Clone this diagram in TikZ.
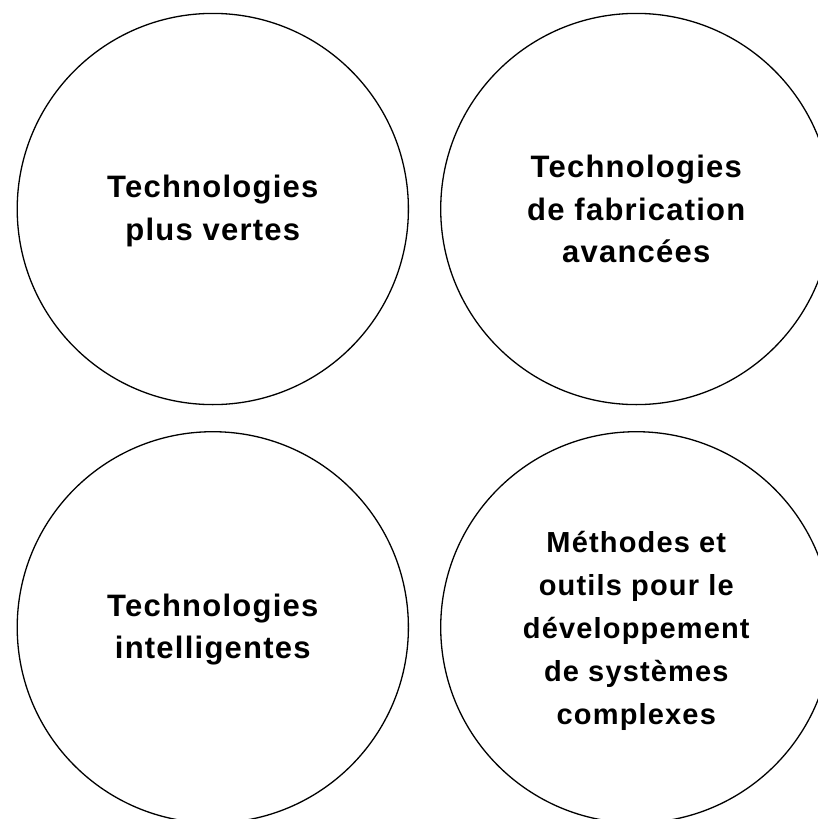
\documentclass[tikz,border=0pt]{standalone}
\usepackage{fontspec}
\setmainfont{Liberation Sans}[LetterSpace=4]
\begin{document}
\begin{tikzpicture}[x=1pt,y=-1pt,
  bubble/.style={circle,draw=black,line width=1.3pt,minimum size=391.2pt,inner sep=0pt},
  lbl/.style={align=center,font=\fontsize{31}{42.5}\selectfont\bfseries},
  lblsmall/.style={align=center,font=\fontsize{29}{43}\selectfont\bfseries}]
\useasboundingbox (0,0) rectangle (817,819);
\node[bubble] (c1) at (212.8,209) {};
\node[bubble] (c2) at (636.3,209) {};
\node[bubble] (c3) at (212.8,627.3) {};
\node[bubble] (c4) at (636.3,627.3) {};
\node[lbl] (t1) at ([yshift=-2pt]c1.center) {Technologies\\plus vertes};
\node[lbl] (t2) at (c2.center) {Technologies\\de fabrication\\avancées};
\node[lbl] (t3) at ([yshift=-2pt]c3.center) {Technologies\\intelligentes};
\node[lblsmall] (t4) at ([yshift=-4pt]c4.center) {Méthodes et\\outils pour le\\développement\\de systèmes\\complexes};
\end{tikzpicture}
\end{document}
